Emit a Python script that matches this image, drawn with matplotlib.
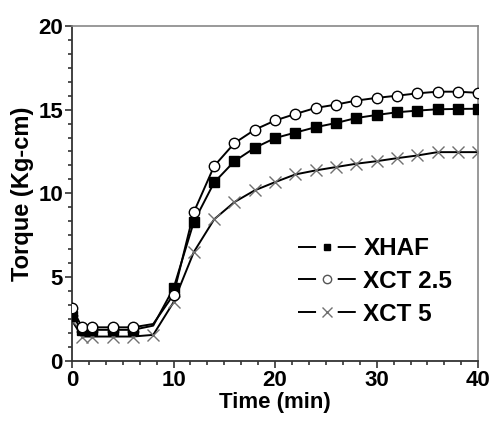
"""Torque vs time curves for XHAF, XCT 2.5 and XCT 5."""

import matplotlib
matplotlib.use("Agg")
import matplotlib.pyplot as plt
from matplotlib.lines import Line2D
from matplotlib.ticker import MultipleLocator, AutoMinorLocator


# time points (min)
time_min = [0, 1, 2, 4, 6, 8, 10, 12, 14, 16, 18, 20, 22, 24, 26, 28, 30, 32, 34, 36, 38, 40]

# torque (Kg-cm)
torque_xhaf = [2.7, 1.85, 1.85, 1.85, 1.85, 2.1, 4.33, 8.3, 10.65, 11.92, 12.72, 13.3,
               13.63, 13.95, 14.2, 14.5, 14.68, 14.84, 14.94, 15.02, 15.04, 15.05]
torque_xct25 = [3.14, 2.0, 2.0, 2.0, 2.0, 2.2, 3.95, 8.88, 11.63, 13.0, 13.8, 14.35,
                14.74, 15.1, 15.3, 15.54, 15.7, 15.83, 15.97, 16.07, 16.07, 16.0]
torque_xct5 = [2.4, 1.45, 1.45, 1.45, 1.45, 1.55, 3.5, 6.5, 8.45, 9.48, 10.18, 10.67,
               11.13, 11.37, 11.57, 11.77, 11.92, 12.1, 12.26, 12.46, 12.46, 12.46]

series_labels = ["XHAF", "XCT 2.5", "XCT 5"]

plt.rcParams["font.family"] = ["Liberation Sans", "DejaVu Sans"]
plt.rcParams["font.weight"] = "bold"
plt.rcParams["lines.scale_dashes"] = False

fig = plt.figure(figsize=(4.93, 4.24), dpi=100)
ax = fig.add_axes([0.146, 0.149, 0.824, 0.790])

# markers at x=8 are hidden for the two upper series in the original
skip8 = [i for i, t in enumerate(time_min) if t != 8]

ax.plot(time_min, torque_xhaf, color="black", lw=1.4, marker="s", ms=6.5,
        mfc="black", mec="black", markevery=skip8, zorder=3)
ax.plot(time_min, torque_xct25, color="black", lw=1.4, marker="o", ms=7.5,
        mfc="white", mec="black", mew=1.0, markevery=skip8, zorder=4)
ax.plot(time_min, torque_xct5, color="black", lw=1.4, marker="x", ms=8,
        mec="#707070", mew=1.0, zorder=2)

ax.set_xlim(0, 40)
ax.set_ylim(0, 20)
ax.xaxis.set_major_locator(MultipleLocator(10))
ax.yaxis.set_major_locator(MultipleLocator(5))
ax.xaxis.set_minor_locator(AutoMinorLocator(6))
ax.yaxis.set_minor_locator(AutoMinorLocator(6))

ax.tick_params(which="both", direction="out", top=False, right=False, width=1.2, color="#333333")
ax.tick_params(which="major", length=5, labelsize=16, pad=1.5)
ax.tick_params(which="minor", length=3)
for lab in ax.get_xticklabels() + ax.get_yticklabels():
    lab.set_fontweight("bold")

for side in ["left", "bottom"]:
    ax.spines[side].set_linewidth(1.3)
    ax.spines[side].set_color("#333333")
for side in ["top", "right"]:
    ax.spines[side].set_linewidth(1.2)
    ax.spines[side].set_color("#888888")

ax.set_xlabel("Time (min)", fontsize=16, fontweight="bold", labelpad=1)
ax.set_ylabel("Torque (Kg-cm)", fontsize=17, fontweight="bold", labelpad=3)

# legend handles: line - gap - marker - gap - line
gap_style = (0, (13, 15.6))
handles = []
for mk, ms, fc, ec in [("s", 5, "black", "black"),
                       ("o", 6, "white", "#555555"),
                       ("x", 7, "none", "#707070")]:
    seg = Line2D([], [], color="black", lw=1.4, linestyle=gap_style)
    dot = Line2D([], [], linestyle="none", marker=mk, ms=ms, mfc=fc, mec=ec, mew=1.0)
    handles.append((seg, dot))

ax.legend(handles, series_labels, loc="lower right", bbox_to_anchor=(0.99, 0.04),
          frameon=False, prop={"size": 17.5, "weight": "bold"}, handlelength=41.6 / 17.5,
          handletextpad=0.3, labelspacing=0.4)

fig.savefig("out.png", dpi=100)
